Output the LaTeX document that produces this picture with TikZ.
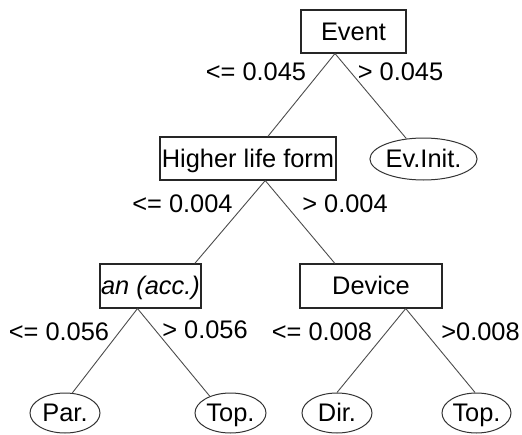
\documentclass[tikz,border=0pt]{standalone}
\usepackage{fontspec}
\setmainfont{Liberation Sans}
\usetikzlibrary{shapes.geometric}
\begin{document}
\begin{tikzpicture}[x=1pt,y=-1pt,
  every node/.style={font=\fontsize{25.4}{30}\selectfont, inner sep=0pt, text=black},
  boxnode/.style={draw=black!85, line width=1.1pt, rectangle, text height=18.3pt, text depth=1pt},
  leaf/.style={draw=black!80, line width=1pt, ellipse, text height=18.3pt, text depth=1pt},
  edge/.style={draw=black!70, line width=0.9pt},
  lbl/.style={anchor=base}]
\useasboundingbox (0,0) rectangle (522,434);
% internal nodes
\node[boxnode, minimum width=105pt, minimum height=43pt] (event) at (353.5,31.5) {Event};
\node[boxnode, minimum width=176pt, minimum height=43pt] (higher) at (248,158.5) {Higher life form};
\node[boxnode, minimum width=101pt, minimum height=44pt] (an) at (150.5,286) {\itshape an (acc.)};
\node[boxnode, minimum width=142pt, minimum height=44pt] (device) at (371,286) {Device};
% leaves
\node[leaf, minimum width=105pt, minimum height=42pt] (evinit) at (423.5,159) {Ev.Init.};
\node[leaf, minimum width=70pt, minimum height=40pt] (par) at (65,413) {Par.};
\node[leaf, minimum width=71pt, minimum height=40pt] (topa) at (230.5,413) {Top.};
\node[leaf, minimum width=70pt, minimum height=40pt] (dir) at (337,413) {Dir.};
\node[leaf, minimum width=69pt, minimum height=40pt] (topb) at (476.5,413) {Top.};
% connectors
\draw[edge] (event.230.85) -- (higher.48.5);
\draw[edge] (event.230.85) -- (evinit.130);
\draw[edge] (higher.308.3) -- (an.27.4);
\draw[edge] (higher.308.3) -- (device.148.6);
\draw[edge] (an.240.4) -- (par.70.7);
\draw[edge] (an.240.4) -- (topa.141.5);
\draw[edge] (device.327.8) -- (dir.90);
\draw[edge] (device.327.8) -- (topb.94);
% labels
\node[lbl] (l1) at (256,80) {<= 0.045};
\node[lbl] (l2) at (400.5,80) {> 0.045};
\node[lbl] (l3) at (182.5,212) {<= 0.004};
\node[lbl] (l4) at (345,212) {> 0.004};
\node[lbl] (l5) at (59,340) {<= 0.056};
\node[lbl] (l6) at (205,338) {> 0.056};
\node[lbl] (l7) at (322,340) {<= 0.008};
\node[lbl] (l8) at (480.5,340) {>0.008};
\end{tikzpicture}
\end{document}
